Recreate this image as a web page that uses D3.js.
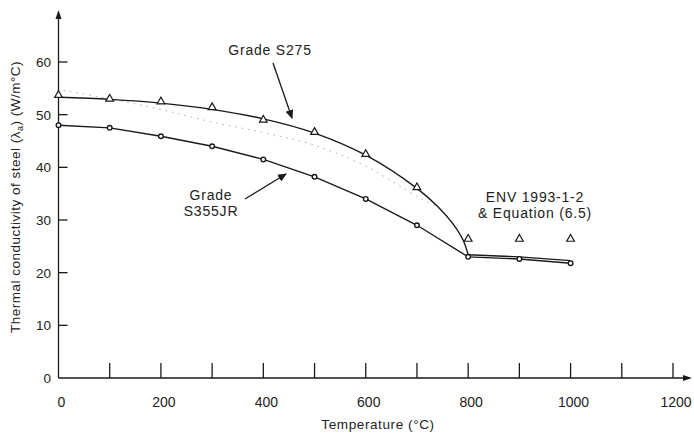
<!DOCTYPE html>
<html>
<head>
<meta charset="utf-8">
<script src="https://cdn.jsdelivr.net/npm/d3@7"></script>
<style>
  body { margin: 0; background: #fff; }
  svg { display: block; font-family: "Liberation Sans", Arial, sans-serif; }
</style>
</head>
<body>
<div id="chart"></div>
<script>
// temperature (°C), conductivity (W/m°C)
const xTicks = [0, 200, 400, 600, 800, 1000, 1200];
const xMinorTicks = [100, 200, 300, 400, 500, 600, 700, 800, 900, 1000, 1100, 1200];
const yTicks = [0, 10, 20, 30, 40, 50, 60];

const s275Curve = [[0, 53.3], [100, 52.9], [200, 52.2], [300, 51.0], [400, 49.2], [500, 46.5],
  [600, 42.3], [700, 36.0], [740, 32.6], [770, 29.3], [790, 26.2], [800, 23.4]];
const s275Tail = [[800, 23.4], [900, 23.0], [1000, 22.3]];
const s275Points = [[0, 53.5], [100, 52.8], [200, 52.3], [300, 51.2], [400, 48.8], [500, 46.5],
  [600, 42.3], [700, 36.0], [800, 26.2], [900, 26.2], [1000, 26.2]];
const s355Points = [[0, 48.0], [100, 47.5], [200, 45.9], [300, 44.0], [400, 41.5], [500, 38.2],
  [600, 34.0], [700, 29.0], [800, 23.0], [900, 22.6], [1000, 21.8]];
const dottedCurve = [[10, 54.6], [100, 53.0], [200, 51.0], [300, 48.6], [400, 46.6], [500, 44.2],
  [600, 40.2], [700, 34.5], [740, 32.5]];

const width = 694, height = 436;
const svg = d3.select("#chart").append("svg")
  .attr("width", width).attr("height", height);

const x = d3.scaleLinear().domain([0, 1200]).range([58.5, 673]);
const y = d3.scaleLinear().domain([0, 60]).range([378, 62]);
const ink = "#1a1a1a";

// axes
const axes = svg.append("g").attr("stroke", ink).attr("stroke-width", 1.3).attr("fill", "none");
axes.append("line").attr("x1", x(0)).attr("x2", 688).attr("y1", y(0)).attr("y2", y(0));
axes.append("line").attr("x1", x(0)).attr("x2", x(0)).attr("y1", y(0)).attr("y2", 14);
svg.append("path").attr("fill", ink)
  .attr("d", `M692,${y(0)} L683,${y(0) - 3} L683,${y(0) + 3} Z`);
svg.append("path").attr("fill", ink)
  .attr("d", `M${x(0)},10 L${x(0) - 3},19 L${x(0) + 3},19 Z`);

axes.selectAll(".xt").data(xMinorTicks).join("line")
  .attr("x1", d => x(d)).attr("x2", d => x(d))
  .attr("y1", y(0)).attr("y2", y(0) - 15);
axes.selectAll(".yt").data(yTicks.slice(1)).join("line")
  .attr("x1", x(0)).attr("x2", x(0) + 9)
  .attr("y1", d => y(d)).attr("y2", d => y(d));

svg.append("g").selectAll("text").data(xTicks).join("text")
  .attr("x", d => x(d) + 3).attr("y", 407)
  .attr("text-anchor", "middle").attr("font-size", 14).attr("fill", "#222")
  .text(d => d);
svg.append("g").selectAll("text").data(yTicks).join("text")
  .attr("x", 51).attr("y", d => y(d) + 5)
  .attr("text-anchor", "end").attr("font-size", 13.5).attr("fill", "#222")
  .text(d => d);

svg.append("text").attr("x", 378).attr("y", 429)
  .attr("text-anchor", "middle").attr("font-size", 13.5).attr("letter-spacing", 0.6)
  .attr("fill", "#222")
  .text("Temperature (°C)");

const yl = svg.append("text")
  .attr("transform", "translate(20,197) rotate(-90)")
  .attr("text-anchor", "middle").attr("font-size", 13.5).attr("letter-spacing", 0.5)
  .attr("fill", "#222");
yl.append("tspan").text("Thermal conductivity of steel (λ");
yl.append("tspan").attr("font-size", 9).attr("dy", 3).text("a");
yl.append("tspan").attr("dy", -3).text(") (W/m°C)");

// curves
const smooth = d3.line().x(d => x(d[0])).y(d => y(d[1])).curve(d3.curveCatmullRom);
const straight = d3.line().x(d => x(d[0])).y(d => y(d[1]));

svg.append("path").datum(dottedCurve)
  .attr("d", smooth).attr("fill", "none")
  .attr("stroke", "#aaa").attr("stroke-width", 1).attr("stroke-dasharray", "1.5 5");
svg.append("path").datum(s275Curve)
  .attr("d", smooth).attr("fill", "none").attr("stroke", ink).attr("stroke-width", 1.4);
svg.append("path").datum(s275Tail)
  .attr("d", straight).attr("fill", "none").attr("stroke", ink).attr("stroke-width", 1.3);
svg.append("path").datum(s355Points)
  .attr("d", straight).attr("fill", "none").attr("stroke", ink).attr("stroke-width", 1.4);

// markers
svg.append("g").selectAll("path").data(s275Points).join("path")
  .attr("d", d3.symbol(d3.symbolTriangle, 26))
  .attr("transform", d => `translate(${x(d[0])},${y(d[1]) - 1})`)
  .attr("fill", "#fff").attr("stroke", ink).attr("stroke-width", 1.2);
svg.append("g").selectAll("circle").data(s355Points).join("circle")
  .attr("cx", d => x(d[0])).attr("cy", d => y(d[1])).attr("r", 2.3)
  .attr("fill", "#fff").attr("stroke", ink).attr("stroke-width", 1.4);

// annotations
svg.append("defs").append("marker")
  .attr("id", "arrow").attr("markerWidth", 10).attr("markerHeight", 10)
  .attr("refX", 8).attr("refY", 4).attr("orient", "auto").attr("markerUnits", "userSpaceOnUse")
  .append("path").attr("d", "M0,0 L9,4 L0,8 Z").attr("fill", ink);

const label = (tx, ty, lines) => {
  const t = svg.append("text").attr("text-anchor", "middle")
    .attr("font-size", 14).attr("letter-spacing", 0.8).attr("fill", "#222");
  lines.forEach((s, i) => t.append("tspan").attr("x", tx).attr("y", ty + i * 16).text(s));
};
label(270, 55, ["Grade S275"]);
label(211, 200, ["Grade", "S355JR"]);
label(535, 202, ["ENV 1993-1-2", "& Equation (6.5)"]);

svg.append("line").attr("x1", 273).attr("y1", 63).attr("x2", 292).attr("y2", 118)
  .attr("stroke", ink).attr("stroke-width", 1.3).attr("marker-end", "url(#arrow)");
svg.append("line").attr("x1", 245).attr("y1", 199).attr("x2", 286).attr("y2", 174)
  .attr("stroke", ink).attr("stroke-width", 1.3).attr("marker-end", "url(#arrow)");
</script>
</body>
</html>
